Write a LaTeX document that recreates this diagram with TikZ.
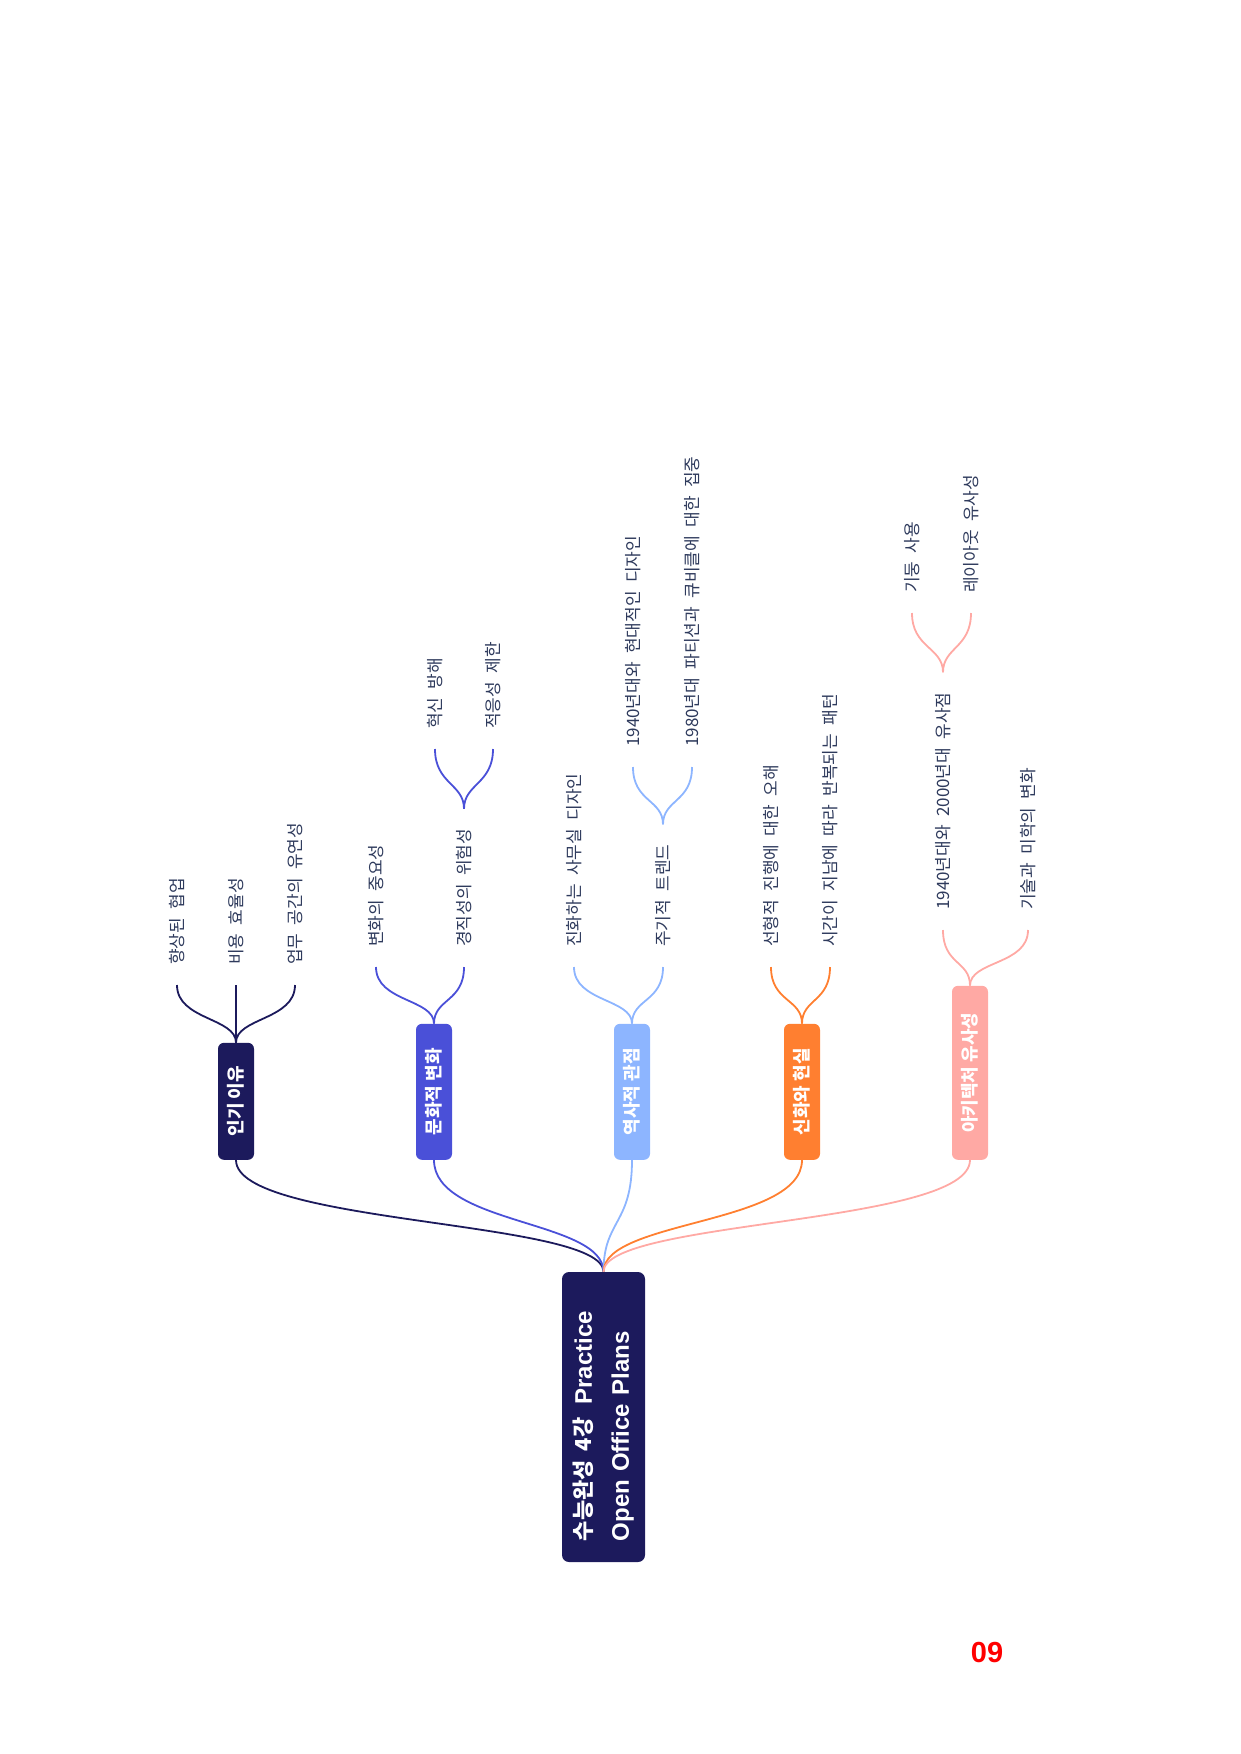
\documentclass[tikz,border=0pt]{standalone}
\usepackage{fontspec}
\setmainfont{Noto Sans CJK KR}
\newfontfamily\cjkf{Noto Sans CJK KR}
\newfontfamily\leaff{Noto Sans CJK KR}[WordSpace=2.2]
\newfontfamily\latf{Liberation Sans}
\newfontfamily\rootf{Liberation Sans}[WordSpace=2]
\definecolor{cnavy}{HTML}{1C1A5C}
\definecolor{cblue}{HTML}{4A50D8}
\definecolor{clight}{HTML}{8DB5FF}
\definecolor{corange}{HTML}{FF7F30}
\definecolor{cpink}{HTML}{FFA9A4}
\definecolor{ctext}{HTML}{2E3A5C}
\begin{document}
\begin{tikzpicture}[x=1pt,y=-1pt,
  rootbox/.style={rotate=90, fill=cnavy, rounded corners=7pt, text=white,
    minimum width=290pt, minimum height=83pt, inner xsep=21pt, inner ysep=0pt,
    align=left, text width=248pt, font=\rootf\bfseries\fontsize{24}{37}\selectfont},
  topic/.style={rotate=90, anchor=west, fill=#1, rounded corners=6pt, text=white,
    font=\fontsize{18}{20}\selectfont\bfseries, minimum height=36pt,
    inner ysep=0pt, inner xsep=8pt},
  leaf/.style={rotate=90, anchor=west, text=ctext,
    font=\leaff\fontsize{17}{19}\selectfont, inner xsep=20pt, inner ysep=2pt},
  link/.style={draw=#1, line width=1.8pt},
  pagenum/.style={text=red, font=\latf\fontsize{29}{30}\selectfont\bfseries}
]
\useasboundingbox (0,0) rectangle (1240,1754);

% root
\node[rootbox] (root) at (603.5,1417)
  {{\cjkf\bfseries\fontsize{22}{37}\selectfont 수능완성\hspace{9pt}4강}\hspace{13pt}Practice\\
   Open Office Plans};

% main topics
\node[topic=cnavy, minimum width=117pt] (n1) at (236,1160) {인기 이유};
\node[topic=cblue, minimum width=136pt] (n2) at (434,1160) {문화적 변화};
\node[topic=clight, minimum width=136pt] (n3) at (632,1160) {역사적 관점};
\node[topic=corange, minimum width=136pt] (n4) at (802,1160) {신화와 현실};
\node[topic=cpink, minimum width=174pt] (n5) at (970,1160) {아키텍처 유사성};

% leaves
\node[leaf] (l11) at (177,985) {향상된 협업};
\node[leaf] (l12) at (236,985) {비용 효율성};
\node[leaf] (l13) at (295,985) {업무 공간의 유연성};

\node[leaf] (l21) at (376,967) {변화의 중요성};
\node[leaf] (l22) at (464,967) {경직성의 위험성};
\node[leaf] (l221) at (435,749) {혁신 방해};
\node[leaf] (l222) at (493,749) {적응성 제한};

\node[leaf] (l31) at (574,967) {진화하는 사무실 디자인};
\node[leaf] (l32) at (663,967) {주기적 트렌드};
\node[leaf] (l321) at (633,767) {1940년대와 현대적인 디자인};
\node[leaf] (l322) at (692,767) {1980년대 파티션과 큐비클에 대한 집중};

\node[leaf] (l41) at (771,967) {선형적 진행에 대한 오해};
\node[leaf] (l42) at (830,967) {시간이 지남에 따라 반복되는 패턴};

\node[leaf] (l51) at (943,930) {1940년대와 2000년대 유사점};
\node[leaf] (l511) at (912,613) {기둥 사용};
\node[leaf] (l512) at (971,613) {레이아웃 유사성};
\node[leaf] (l52) at (1028,930) {기술과 미학의 변화};

% root links
\draw[link=cnavy] (root.east) .. controls +(0,-52) and +(0,65) .. (n1.west);
\draw[link=cblue] (root.east) .. controls +(0,-52) and +(0,65) .. (n2.west);
\draw[link=clight] (root.east) .. controls +(0,-52) and +(0,65) .. (n3.west);
\draw[link=corange] (root.east) .. controls +(0,-52) and +(0,65) .. (n4.west);
\draw[link=cpink] (root.east) .. controls +(0,-52) and +(0,65) .. (n5.west);

% topic links
\foreach \p/\c/\col in {n1/l11/cnavy, n1/l12/cnavy, n1/l13/cnavy,
    n2/l21/cblue, n2/l22/cblue, l22/l221/cblue, l22/l222/cblue,
    n3/l31/clight, n3/l32/clight, l32/l321/clight, l32/l322/clight,
    n4/l41/corange, n4/l42/corange,
    n5/l51/cpink, n5/l52/cpink, l51/l511/cpink, l51/l512/cpink}
  \draw[link=\col] (\p.east) .. controls +(0,-25) and +(0,35) .. (\c.west);

\node[pagenum] (pg) at (987,1652) {09};
\end{tikzpicture}
\end{document}
